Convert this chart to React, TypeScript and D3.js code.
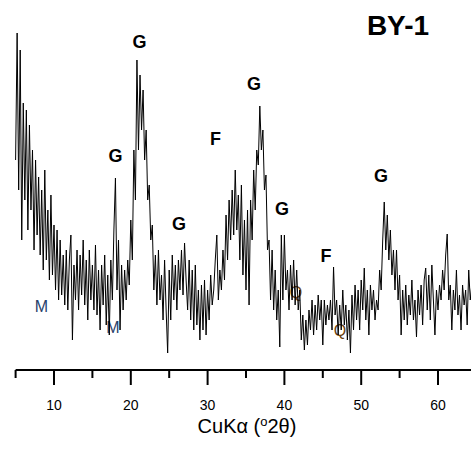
import React from "react";
import * as d3 from "d3";

// XRD pattern BY-1: 2θ from 5.0° in 0.2° steps (arbitrary counts)
const thetaStart = 5.0;
const thetaStep = 0.2;
const counts: number[] = [
  220, 347, 190, 330, 140, 277, 180, 270, 150, 255,
  170, 230, 130, 220, 145, 203, 125, 190, 110, 210,
  120, 170, 100, 185, 105, 155, 90, 150, 80, 140,
  85, 125, 75, 130, 70, 120, 145, 40, 115, 80,
  130, 70, 125, 85, 140, 75, 120, 60, 130, 80,
  115, 70, 135, 65, 110, 50, 115, 75, 125, 55,
  105, 45, 120, 80, 150, 202, 90, 140, 50, 115,
  70, 110, 80, 120, 95, 160, 120, 230, 180, 320,
  230, 305, 250, 290, 220, 250, 180, 195, 140, 155,
  90, 125, 75, 130, 80, 105, 60, 120, 70, 27,
  110, 60, 125, 80, 115, 70, 120, 90, 130, 85,
  137, 100, 70, 120, 60, 110, 50, 115, 55, 90,
  40, 95, 50, 100, 45, 90, 60, 105, 75, 90,
  120, 145, 80, 110, 90, 130, 100, 165, 120, 180,
  140, 190, 145, 210, 150, 185, 120, 195, 105, 160,
  90, 170, 75, 180, 140, 210, 170, 230, 215, 274,
  230, 250, 190, 205, 130, 140, 80, 130, 70, 110,
  60, 90, 33, 145, 80, 145, 90, 110, 70, 115,
  80, 120, 75, 110, 70, 90, 40, 65, 30, 60,
  35, 70, 50, 80, 45, 75, 50, 85, 60, 80,
  35, 80, 55, 75, 60, 80, 50, 113, 65, 80,
  45, 75, 50, 90, 55, 75, 40, 70, 27, 85,
  50, 95, 60, 90, 50, 100, 70, 112, 60, 90,
  45, 95, 70, 90, 60, 80, 70, 110, 90, 140,
  178, 130, 165, 120, 150, 105, 130, 90, 130, 80,
  105, 45, 90, 60, 95, 55, 85, 65, 100, 60,
  80, 43, 90, 65, 95, 55, 100, 112, 70, 105,
  60, 115, 80, 45, 90, 70, 95, 80, 110, 90,
  125, 146, 80, 95, 50, 90, 70, 110, 65, 85,
  50, 95, 75, 90, 55, 110, 80, 95,
];

const majorTicks = [10, 20, 30, 40, 50, 60];
const minorTicks = [5, 15, 25, 35, 45, 55, 65];

// phase labels: letter, 2θ position, count level of label baseline
const phaseLetters = ["G", "G", "G", "F", "G", "G", "F", "G"];
const phaseTheta = [21.13, 18.0, 26.28, 31.03, 36.04, 39.69, 45.42, 52.58];
const phaseLevel = [332, 218, 150, 235, 290, 165, 118, 198];

const minorLetters = ["M", "M", "Q", "Q"];
const minorTheta = [8.37, 17.68, 41.5, 47.24];
const minorLevel = [68, 47, 82, 44];
const minorColors = ["#27416b", "#27416b", "#6b4310", "#6b4310"];

const W = 471;
const H = 453;

export default function App() {
  const x = d3.scaleLinear().domain([5, 65]).range([15.6, 15.6 + 60 * 7.68]);
  const y = d3.scaleLinear().domain([0, 360]).range([380, 20]);
  const data = counts.map((c, i) => [thetaStart + i * thetaStep, c] as [number, number]);
  const line = d3
    .line<[number, number]>()
    .x((d) => x(d[0]))
    .y((d) => y(d[1]));
  const axisY = 370;
  const font = "'Liberation Sans', Arial, sans-serif";

  return (
    <svg
      width={W}
      height={H}
      style={{ position: "absolute", left: 0, top: 0, background: "#fff" }}
    >
      <rect width={W} height={H} fill="#fff" />
      {minorLetters.map((t, i) => (
        <text
          key={"m" + i}
          x={x(minorTheta[i])}
          y={y(minorLevel[i])}
          textAnchor="middle"
          fontFamily={font}
          fontSize={16}
          fill={minorColors[i]}
        >
          {t}
        </text>
      ))}
      <path d={line(data) || ""} fill="none" stroke="#000" strokeWidth={1} />
      {phaseLetters.map((t, i) => (
        <text
          key={"p" + i}
          x={x(phaseTheta[i])}
          y={y(phaseLevel[i])}
          textAnchor="middle"
          fontFamily={font}
          fontWeight="bold"
          fontSize={18}
          fill="#000"
        >
          {t}
        </text>
      ))}
      <text
        x={398}
        y={35}
        textAnchor="middle"
        fontFamily={font}
        fontWeight="bold"
        fontSize={28}
        fill="#000"
      >
        BY-1
      </text>
      <line x1={x(5)} x2={W} y1={axisY} y2={axisY} stroke="#000" strokeWidth={2} />
      {majorTicks.map((t) => (
        <g key={"M" + t}>
          <line x1={x(t)} x2={x(t)} y1={axisY} y2={axisY + 15} stroke="#000" strokeWidth={2} />
          <text
            x={x(t)}
            y={410}
            textAnchor="middle"
            fontFamily={font}
            fontSize={14}
            fill="#000"
          >
            {t}
          </text>
        </g>
      ))}
      {minorTicks.map((t) => (
        <line
          key={"n" + t}
          x1={x(t)}
          x2={x(t)}
          y1={axisY}
          y2={axisY + 8}
          stroke="#000"
          strokeWidth={2}
        />
      ))}
      <text x={247} y={433} textAnchor="middle" fontFamily={font} fontSize={20} fill="#000">
        CuKα (
        <tspan fontSize={13} dy={-7}>
          o
        </tspan>
        <tspan dy={7}>2θ)</tspan>
      </text>
    </svg>
  );
}
